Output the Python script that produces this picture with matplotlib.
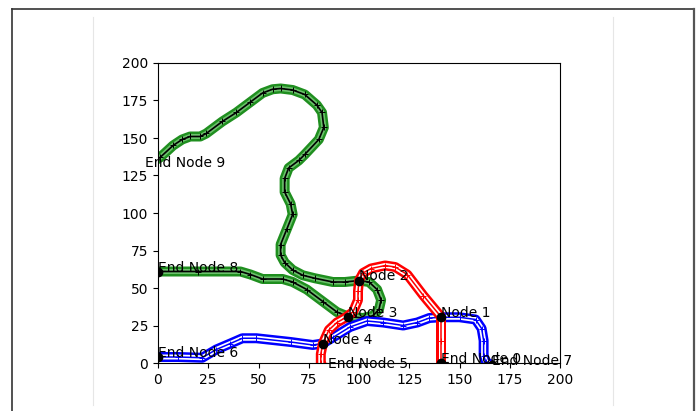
import matplotlib
matplotlib.use("Agg")
import matplotlib.pyplot as plt
from matplotlib.lines import Line2D

# track polylines (x, y) in layout units
GREEN_UPPER = [(-6.5, 131), (1, 137), (7.5, 145), (12, 149), (16, 151), (21, 151),
               (24, 153), (32, 161), (39, 167), (46, 174), (52, 180), (57, 182.5),
               (61, 183), (67, 182), (73, 179), (79, 172), (81.6, 167), (82.5, 157),
               (80, 149), (73, 139), (70, 135), (65, 130), (63, 123), (63, 114),
               (66, 106), (67, 99), (64, 89), (61, 79), (61, 72), (63, 67), (67, 62),
               (72, 58.5), (78, 56.5), (87, 54), (93, 54), (100, 55)]
GREEN_LOOP = [(100, 55), (105, 54), (109, 49), (111, 42), (110, 36), (107, 31.5),
              (102, 30), (94.5, 31)]
GREEN_LOWER = [(0, 61), (20, 61), (41, 61), (46, 59), (52, 56), (62, 56), (67, 54),
               (74, 49), (82, 41), (89, 34), (94.5, 31)]

RED_SPUR = [(141, 30.5), (141, 15), (141, 0)]
RED_MAIN = [(141, 30.5), (132, 45), (124, 59), (118, 64), (113, 65), (106, 63),
            (102, 60), (100, 55), (99.5, 48), (99.5, 42), (97, 34), (93, 30),
            (89, 27), (85, 22), (82, 13), (81, 6), (81, 0), (82, -3), (84.6, -3.3)]

BLUE_MAIN = [(0, 4), (10, 4), (22, 3.5), (29, 9), (36, 13), (42, 16.5), (49, 16.5),
             (66, 14), (77, 12), (82, 13), (87, 17), (95.5, 24), (104, 28),
             (112, 27), (122, 25), (129, 27), (135, 30), (141, 30.5), (150, 30.5),
             (158, 29), (161, 23), (162, 15), (162, 5), (163, 1), (166, -1.5)]

NODE_NAMES = ["End Node 0", "Node 1", "Node 2", "Node 3", "Node 4",
              "End Node 5", "End Node 6", "End Node 7", "End Node 8", "End Node 9"]
NODE_X = [141, 141, 100, 94.5, 82, 84.6, 0, 166, 0, -6.5]
NODE_Y = [0, 30.5, 55, 31, 13, -3.3, 4, -1.5, 61, 131]


def draw_rail(ax, pts, color, inner, center, center_lw):
    xs = [p[0] for p in pts]
    ys = [p[1] for p in pts]
    ax.plot(xs, ys, color=color, lw=7.2,
            solid_capstyle="butt", solid_joinstyle="round")
    ax.plot(xs, ys, color=inner, lw=3.6,
            solid_capstyle="butt", solid_joinstyle="round")
    ax.plot(xs, ys, color=center, lw=center_lw, marker="+", ms=5, mew=0.7)


fig = plt.figure(figsize=(7.0, 4.11), dpi=100)
ax = fig.add_axes([158 / 700, 48 / 411, 402 / 700, 300 / 411])

for trk in (GREEN_UPPER, GREEN_LOOP, GREEN_LOWER):
    draw_rail(ax, trk, "#1f8f1f", "#6cc06c", "black", 1.2)
draw_rail(ax, BLUE_MAIN, "blue", "white", "blue", 1.1)
for trk in (RED_SPUR, RED_MAIN):
    draw_rail(ax, trk, "red", "white", "red", 1.1)

ax.plot(NODE_X, NODE_Y, "o", color="black", ms=6, zorder=5)
for name, x, y in zip(NODE_NAMES, NODE_X, NODE_Y):
    ax.text(x, y, name, fontsize=10, zorder=6)

ax.set_xlim(0, 200)
ax.set_ylim(0, 200)
ax.set_xticks(range(0, 201, 25))
ax.set_yticks(range(0, 201, 25))

# page frame and faint guide lines
W, H = 700, 411
fig.add_artist(Line2D([12 / W, 12 / W], [0, 1 - 9 / H], color="#333333", lw=1.2))
fig.add_artist(Line2D([12 / W, 694 / W], [1 - 9 / H, 1 - 9 / H], color="#333333", lw=1.2))
fig.add_artist(Line2D([694 / W, 694 / W], [0, 1 - 9 / H], color="#555555", lw=1.6))
fig.add_artist(Line2D([93 / W, 93 / W], [1 - 405 / H, 1 - 17 / H], color="#e6e6e6", lw=0.8))
fig.add_artist(Line2D([613 / W, 613 / W], [1 - 405 / H, 1 - 17 / H], color="#e6e6e6", lw=0.8))

fig.savefig("out.png", dpi=100)
